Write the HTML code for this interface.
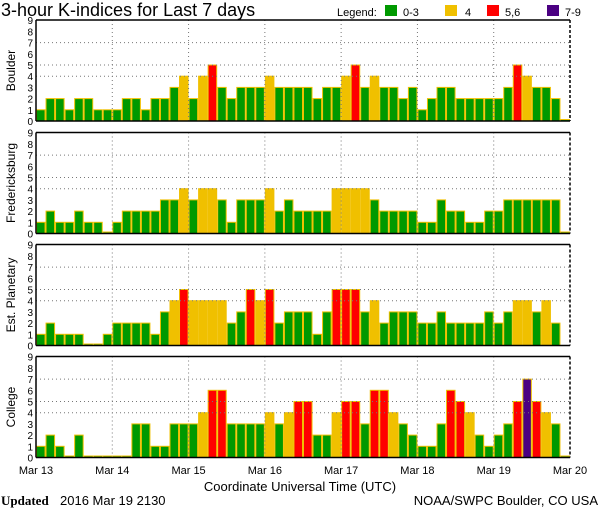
<!DOCTYPE html>
<html><head><meta charset="utf-8"><style>
html,body{margin:0;padding:0;background:#fff;}
svg{display:block;font-family:"Liberation Sans",sans-serif;}
</style></head><body>
<svg id="s" width="600" height="510" xmlns="http://www.w3.org/2000/svg">
<text x="1" y="16" font-size="18" fill="#000">3-hour K-indices for Last 7 days</text>
<text x="337" y="16" font-size="11" fill="#000">Legend:</text>
<rect x="385" y="5" width="12" height="11" fill="#009900"/><text x="403" y="16" font-size="11">0-3</text>
<rect x="445" y="5" width="12" height="11" fill="#f0c000"/><text x="465" y="16" font-size="11">4</text>
<rect x="487" y="5" width="12" height="11" fill="#ff0000"/><text x="505" y="16" font-size="11">5,6</text>
<rect x="547" y="5" width="12" height="11" fill="#4b0082"/><text x="565" y="16" font-size="11">7-9</text>
<g id="g"></g>
<text x="300" y="491" font-size="13" text-anchor="middle">Coordinate Universal Time (UTC)</text>
<text x="1" y="505" font-size="13" font-family="Liberation Serif" font-weight="bold">Updated</text>
<text x="60" y="505" font-size="13">2016 Mar 19 2130</text>
<text x="598" y="505" font-size="13" text-anchor="end">NOAA/SWPC Boulder, CO USA</text>
</svg>
<script>
var data=[
[1,2,2,1,2,2,1,1, 1,2,2,1,2,2,3,4, 2,4,5,3,2,3,3,3, 4,3,3,3,3,2,3,3, 4,5,3,4,3,3,2,3, 1,2,3,3,2,2,2,2, 2,3,5,4,3,3,2,0],
[1,2,1,1,2,1,1,0, 1,2,2,2,2,3,3,4, 3,4,4,3,1,3,3,3, 4,2,3,2,2,2,2,4, 4,4,4,3,2,2,2,2, 1,1,3,2,2,1,1,2, 2,3,3,3,3,3,3,0],
[1,2,1,1,1,0,0,1, 2,2,2,2,1,3,4,5, 4,4,4,4,2,3,5,4, 5,2,3,3,3,1,3,5, 5,5,3,4,2,3,3,3, 2,2,3,2,2,2,2,3, 2,3,4,4,3,4,2,-1],
[1,2,1,0,2,0,0,0, 0,0,3,3,1,1,3,3, 3,4,6,6,3,3,3,3, 4,3,4,5,5,2,2,4, 5,5,3,6,6,4,3,2, 1,1,3,6,5,4,2,1, 2,3,5,7,5,4,3,0]];
var names=["Boulder","Fredericksburg","Est. Planetary","College"];
var tops=[20,132.5,244.5,356.5];
var L=36,R=570,bw=(R-L)/56,u=11.2,h="";
for(var p=0;p<4;p++){
 var t=tops[p],b=t+101;
 var cy=(t+b)/2;
 h+='<text transform="translate(15,'+cy+') rotate(-90)" font-size="12" text-anchor="middle">'+names[p]+'</text>';
 for(var k=0;k<=9;k++){h+='<text x="33" y="'+(b-k*u+4)+'" font-size="10" text-anchor="end">'+k+'</text>';}
 for(var i=0;i<56;i++){
  var v=data[p][i]; if(v<0) continue;
  var c=v<=3?"#009900":v==4?"#f0c000":v<=6?"#ff0000":"#4b0082";
  var hh=Math.max(v*u,1.5);
  h+='<rect x="'+(L+i*bw+0.5)+'" y="'+(b-hh)+'" width="'+(bw-1)+'" height="'+hh+'" fill="'+c+'" stroke="#f0c000" stroke-width="1"/>';
 }
 [4,5,7].forEach(function(k){h+='<line x1="'+L+'" x2="'+R+'" y1="'+(b-k*u)+'" y2="'+(b-k*u)+'" stroke="#777" stroke-dasharray="1,3"/>';});
 for(var d=1;d<7;d++){var x=L+d*8*bw;h+='<line x1="'+x+'" x2="'+x+'" y1="'+t+'" y2="'+b+'" stroke="#777" stroke-dasharray="1,3"/>';}
 h+='<line x1="'+L+'" x2="'+R+'" y1="'+t+'" y2="'+t+'" stroke="#000" stroke-width="1.5"/>';
 h+='<line x1="'+L+'" x2="'+R+'" y1="'+b+'" y2="'+b+'" stroke="#000" stroke-width="1.5"/>';
 h+='<line x1="'+L+'" x2="'+L+'" y1="'+t+'" y2="'+b+'" stroke="#000" stroke-width="1.5"/>';
 h+='<line x1="'+R+'" x2="'+R+'" y1="'+t+'" y2="'+b+'" stroke="#000" stroke-width="1.5" stroke-dasharray="3,2"/>';
}
var days=["Mar 13","Mar 14","Mar 15","Mar 16","Mar 17","Mar 18","Mar 19","Mar 20"];
for(var d=0;d<8;d++){h+='<text x="'+(L+d*8*bw)+'" y="474" font-size="11" text-anchor="middle">'+days[d]+'</text>';}
document.getElementById("g").innerHTML=h;
</script>
</body></html>
